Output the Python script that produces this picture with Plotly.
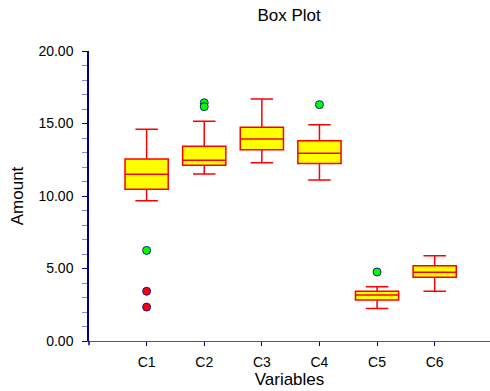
import plotly.graph_objects as go

categories = ["C1", "C2", "C3", "C4", "C5", "C6"]
positions = [1, 2, 3, 4, 5, 6]
lower_whisker = [9.68, 11.52, 12.30, 11.10, 2.25, 3.43]
q1 = [10.46, 12.12, 13.19, 12.25, 2.83, 4.39]
median = [11.50, 12.46, 13.93, 12.94, 3.17, 4.74]
q3 = [12.55, 13.43, 14.74, 13.81, 3.43, 5.19]
upper_whisker = [14.60, 15.15, 16.69, 14.92, 3.75, 5.88]

# mild outliers (green) and severe outliers (red)
mild_x = [1, 2, 2, 4, 5]
mild_y = [6.25, 16.43, 16.16, 16.30, 4.76]
severe_x = [1, 1]
severe_y = [3.43, 2.34]

fig = go.Figure()
fig.add_trace(go.Box(
    x=positions, q1=q1, median=median, q3=q3,
    lowerfence=lower_whisker, upperfence=upper_whisker,
    width=0.75, whiskerwidth=0.52,
    fillcolor="#FFFF00", line=dict(color="#FF0000", width=1.5),
    boxpoints=False, showlegend=False, hoverinfo="skip"))
fig.add_trace(go.Scatter(
    x=mild_x, y=mild_y, mode="markers",
    marker=dict(color="#00FF00", size=8, line=dict(color="#1a1a8c", width=1)),
    showlegend=False))
fig.add_trace(go.Scatter(
    x=severe_x, y=severe_y, mode="markers",
    marker=dict(color="#FF0000", size=8, line=dict(color="#1a1a8c", width=1)),
    showlegend=False))

font = "Liberation Sans, Arial, sans-serif"
fig.update_layout(
    width=490, height=391,
    margin=dict(l=89, r=0, t=51, b=50),
    paper_bgcolor="white", plot_bgcolor="white",
    font=dict(family=font, color="#000000", size=14),
    title=dict(text="Box Plot", x=0.59, xanchor="center", y=0.962, yanchor="middle",
               font=dict(size=17, family=font)),
    xaxis=dict(range=[0, 6.96], tickmode="array", tickvals=positions, ticktext=categories,
               showline=True, linecolor="#5050a8", linewidth=1,
               ticks="outside", ticklen=4, tickcolor="#00008b", tickwidth=1,
               ticklabelstandoff=4,
               showgrid=False, zeroline=False,
               title=dict(text="Variables", font=dict(size=17), standoff=0),
               tickfont=dict(size=14)),
    yaxis=dict(range=[0, 20], tickmode="linear", tick0=0, dtick=5, tickformat=".2f",
               showline=True, linecolor="#00008b", linewidth=1.5,
               ticks="outside", ticklen=5, tickcolor="#00008b", tickwidth=1,
               ticklabelstandoff=6,
               minor=dict(dtick=1, ticks="outside", ticklen=5, tickcolor="#8888c8", tickwidth=1),
               showgrid=False, zeroline=False,
               title=dict(text="Amount", font=dict(size=17), standoff=10),
               tickfont=dict(size=14)),
)
fig.add_shape(type="line", xref="paper", yref="paper", x0=0, x1=0, y0=0, y1=-0.015,
              line=dict(color="#00008b", width=1.5))
fig.write_html("out.html")
